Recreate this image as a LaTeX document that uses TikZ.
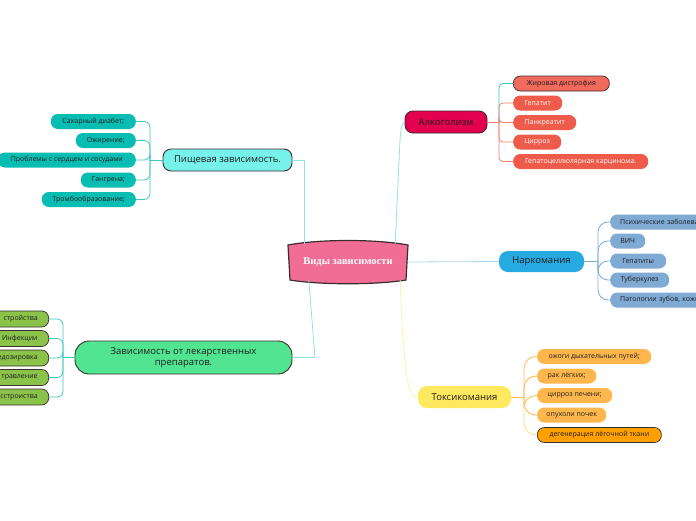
\documentclass[tikz,border=0pt]{standalone}
\usepackage{fontspec}
\setmainfont{Open Sans}
\newfontfamily\serifb{Liberation Serif}
\usetikzlibrary{calc}
\definecolor{pinkc}{HTML}{F26D96}
\definecolor{cyanm}{HTML}{76F2EB}
\definecolor{tealc}{HTML}{0ABDB3}
\definecolor{greenm}{HTML}{52E591}
\definecolor{olivec}{HTML}{8BC34A}
\definecolor{crimson}{HTML}{E2004F}
\definecolor{salmon}{HTML}{EF5B4A}
\definecolor{salmonl}{HTML}{F26A5C}
\definecolor{bluem}{HTML}{27AAE1}
\definecolor{steel}{HTML}{7EAAD4}
\definecolor{yellowm}{HTML}{FFE95E}
\definecolor{orangel}{HTML}{FFB74D}
\definecolor{oranged}{HTML}{FFA000}
\definecolor{edge}{HTML}{3A2E2E}
\definecolor{txt}{HTML}{1E1E1E}
\definecolor{ccyan}{HTML}{8FE3E3}
\definecolor{cblue}{HTML}{A9D8F2}
\definecolor{cyell}{HTML}{FFF3A0}
\definecolor{cteal}{HTML}{3CC8C0}
\definecolor{csal}{HTML}{F08070}
\begin{document}
\begin{tikzpicture}[x=1pt,y=-1pt,
  topic/.style={rounded corners=8pt, draw=edge, line width=0.9pt, minimum height=22pt, inner sep=0pt, font=\fontsize{9.5}{11}\selectfont, text=txt, align=center},
  leaf/.style={rounded corners=7pt, minimum height=15pt, inner sep=0pt, font=\fontsize{7}{8}\selectfont, text=txt},
  con/.style={line width=0.8pt},
  ]
\clip (0,0) rectangle (696,520);
\fill[white] (0,0) rectangle (696,520);

% central
\node (c) [minimum width=120pt, minimum height=36pt, inner sep=0pt] at (348,262) {};
\draw[fill=pinkc, draw=edge, line width=1.2pt] (288,245) .. controls (320,239) and (376,239) .. (408,245) -- (406,280) .. controls (376,285) and (320,285) .. (290,280) -- cycle;
\node at (c) {\serifb\bfseries\fontsize{10.5}{12}\selectfont\color{white}Виды зависимости};

% main topics
\node (pw) [topic, fill=cyanm, minimum width=129pt] at (227.5,160) {Пищевая зависимость.};
\node (lk) [topic, fill=greenm, minimum width=217pt, minimum height=33pt, rounded corners=14pt] at (183.5,357.5) {Зависимость от лекарственных\\препаратов.};
\node (al) [topic, fill=crimson, minimum width=82pt] at (446,122) {Алкоголизм};
\node (nk) [topic, fill=bluem, draw=none, minimum width=85pt, minimum height=21pt, rounded corners=9pt] at (541.5,261.5) {Наркомания};
\node (tx) [topic, fill=yellowm, draw=none, minimum width=93pt, rounded corners=9pt] at (464.5,397) {Токсикомания};

% central connectors
\coordinate (kl) at (315,357.5);
\coordinate (ka) at (400,140);
\draw[con, ccyan] ($(c.north west)+(17,0)$) |- (pw.east);
\draw[con, ccyan] ($(c.south west)+(21,0)$) -- (kl) -- (lk.east);
\draw[con, ccyan] ($(c.north east)+(-13,0)$) -- (ka) .. controls (401,128) and (402,122) .. (al.west);
\draw[con, cblue] (c.east) -- (nk.west);
\draw[con, cyell] ($(c.south east)+(-8,0)$) .. controls (404,388) and (410,397) .. (tx.west);

% Pishchevaya leaves
\node (p1) [leaf, fill=tealc, anchor=east, minimum width=85pt] at (136,121.5) {Сахарный диабет;};
\node (p2) [leaf, fill=tealc, anchor=east, minimum width=60pt] at (136,140.5) {Ожирение;};
\node (p3) [leaf, fill=tealc, anchor=east, minimum width=138pt] at (136,160) {Проблемы с сердцем и сосудами};
\node (p4) [leaf, fill=tealc, anchor=east, minimum width=55pt] at (136,180) {Гангрена;};
\node (p5) [leaf, fill=tealc, anchor=east, minimum width=94pt] at (136,199.5) {Тромбообразование;};
\coordinate (tp) at (150,160);
\draw[con, cteal] (pw.west) -- (tp);
\foreach \n in {p1,p2,p3,p4,p5} \draw[con, cteal, rounded corners=6pt] (tp) |- (\n.east);

% Lekarstv leaves
\tikzset{gleaf/.style={leaf, fill=olivec, draw=edge, line width=0.7pt, anchor=east, text width=52pt, align=right, inner xsep=11pt, minimum height=16pt}}
\node (g1) [gleaf] at (49,319) {стройства};
\node (g2) [gleaf] at (49,338.5) {Инфекции};
\node (g3) [gleaf] at (49,358) {едозировка};
\node (g4) [gleaf] at (49,377.5) {травление};
\node (g5) [gleaf] at (49,397) {сстроиства};
\coordinate (tg) at (63,357.5);
\draw[con, cteal] (lk.west) -- (tg);
\foreach \n in {g1,g2,g3,g4,g5} \draw[con, cteal, rounded corners=6pt] (tg) |- (\n.east);

% Alkogolizm leaves
\node (a1) [leaf, fill=salmonl, draw=edge, line width=0.7pt, anchor=west, minimum width=96pt] at (513,83.5) {Жировая дистрофия};
\node (a2) [leaf, fill=salmon, text=white, anchor=west, minimum width=49pt] at (513,103) {Гепатит};
\node (a3) [leaf, fill=salmon, text=white, anchor=west, minimum width=63pt] at (513,122.5) {Панкреатит};
\node (a4) [leaf, fill=salmon, text=white, anchor=west, minimum width=48pt] at (513,142) {Цирроз};
\node (a5) [leaf, fill=salmon, text=white, anchor=west, minimum width=135pt] at (513,161.5) {Гепатоцеллюлярная карцинома.};
\coordinate (ta) at (499,122);
\draw[con, csal] (al.east) -- (ta);
\draw[con, cteal, rounded corners=4pt] (ta) |- (a1.west);
\foreach \n in {a2,a3,a4,a5} \draw[con, csal, rounded corners=4pt] (ta) |- (\n.west);

% Narkomaniya leaves
\node (n1) [leaf, fill=steel, anchor=west, text width=100pt, align=left, inner xsep=10pt] at (610,222) {Психические заболевания};
\node (n2) [leaf, fill=steel, anchor=west, minimum width=35pt] at (610,241) {ВИЧ};
\node (n3) [leaf, fill=steel, anchor=west, minimum width=56pt] at (610,261) {Гепатиты};
\node (n4) [leaf, fill=steel, anchor=west, minimum width=59pt] at (610,280) {Туберкулез};
\node (n5) [leaf, fill=steel, anchor=west, text width=100pt, align=left, inner xsep=10pt] at (610,300) {Патологии зубов, кожи};
\coordinate (tn) at (598,261.5);
\draw[con, steel] (nk.east) -- (tn);
\foreach \n in {n1,n2,n3,n4,n5} \draw[con, steel, rounded corners=10pt] (tn) |- (\n.west);

% Toksikomaniya leaves
\node (t1) [leaf, fill=orangel, anchor=west, minimum width=114pt] at (537,356.5) {ожоги дыхательных путей;};
\node (t2) [leaf, fill=orangel, anchor=west, minimum width=59pt] at (537,376) {рак лёгких;};
\node (t3) [leaf, fill=orangel, anchor=west, minimum width=75pt] at (537,395.5) {цирроз печени;};
\node (t4) [leaf, fill=orangel, anchor=west, minimum width=69pt] at (537,415) {опухоли почек};
\node (t5) [leaf, fill=oranged, draw=edge, line width=0.7pt, anchor=west, minimum width=124pt] at (537,435) {дегенерация лёгочной ткани};
\coordinate (tt) at (524,397);
\draw[con, orangel] (tx.east) -- (tt);
\foreach \n in {t1,t2,t3,t4} \draw[con, orangel, rounded corners=12pt] (tt) |- (\n.west);
\draw[con, cyell!80!orange, rounded corners=12pt] (tt) |- (t5.west);
\end{tikzpicture}
\end{document}
